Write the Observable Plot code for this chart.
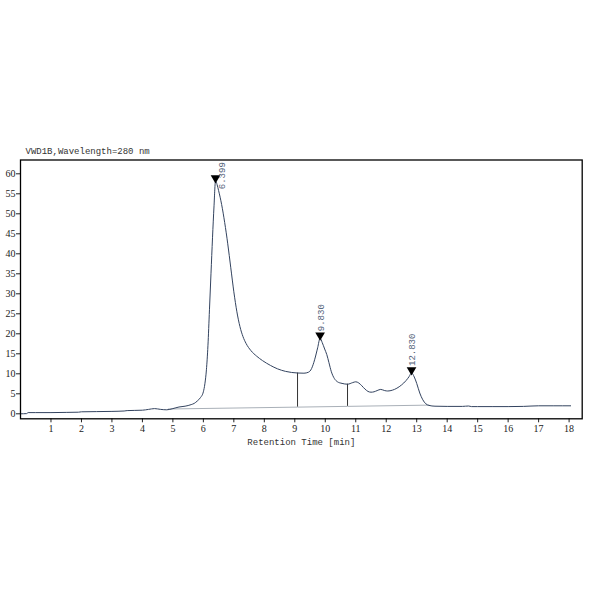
<!DOCTYPE html>
<html>
<head>
<meta charset="utf-8">
<script src="https://cdn.jsdelivr.net/npm/d3@7"></script>
<script src="https://cdn.jsdelivr.net/npm/@observablehq/plot@0.6"></script>
<style>
  html, body { margin: 0; padding: 0; background: #fff; }
</style>
</head>
<body>
<div id="chart"></div>
<script>
// Chromatogram signal (retention time in min, signal in mAU)
const timeMin = [0.0, 0.2, 0.25, 0.5, 1.0, 1.5, 1.9, 2.0, 2.5, 3.0, 3.4, 3.5, 4.0, 4.2, 4.4, 4.6, 4.8, 5.0, 5.2, 5.4, 5.6, 5.7, 5.8, 5.9, 6.0, 6.05, 6.1, 6.15, 6.2, 6.25, 6.3, 6.35, 6.399, 6.45, 6.5, 6.6, 6.7, 6.8, 6.9, 7.0, 7.1, 7.2, 7.3, 7.4, 7.56, 7.75, 7.94, 8.2, 8.43, 8.7, 9.09, 9.3, 9.45, 9.55, 9.65, 9.75, 9.83, 9.9, 9.98, 10.05, 10.12, 10.2, 10.3, 10.4, 10.55, 10.73, 10.9, 11.0, 11.1, 11.2, 11.3, 11.4, 11.5, 11.6, 11.7, 11.82, 11.95, 12.05, 12.2, 12.35, 12.5, 12.65, 12.75, 12.83, 12.92, 13.0, 13.1, 13.2, 13.3, 13.4, 13.6, 14.0, 14.5, 14.7, 14.8, 15.0, 15.5, 16.0, 16.5, 17.0, 17.5, 18.05];
const signal  = [0.0, 0.05, 0.3, 0.3, 0.3, 0.35, 0.4, 0.5, 0.55, 0.6, 0.7, 0.8, 0.9, 1.1, 1.3, 1.1, 1.0, 1.3, 1.7, 1.9, 2.3, 2.6, 3.2, 4.0, 5.5, 7.5, 11, 17, 26, 35, 44, 52, 58.2, 57.3, 55.8, 52.3, 47.8, 42.5, 36.5, 30.5, 25.5, 21.8, 19.3, 17.6, 15.8, 14.4, 13.3, 12.1, 11.25, 10.6, 10.2, 10.15, 10.4, 11.3, 13.5, 16.5, 18.9, 17.8, 16.2, 14.8, 12.8, 10.5, 8.8, 8.0, 7.6, 7.4, 7.8, 8.0, 7.7, 7.0, 6.2, 5.6, 5.4, 5.5, 5.8, 6.1, 5.8, 5.7, 5.9, 6.4, 7.2, 8.3, 9.3, 10.2, 9.2, 7.6, 5.2, 3.5, 2.5, 2.1, 1.9, 1.85, 1.85, 1.95, 1.8, 1.8, 1.8, 1.8, 1.85, 2.0, 2.0, 2.0];

// Integration baseline
const baseTime = [4.85, 9.09, 10.73, 13.4];
const baseSignal = [1.2, 1.67, 1.86, 2.17];

// Peak separation drop lines
const dropTime = [9.09, 10.73];
const dropTop = [10.2, 7.4];
const dropBottom = [1.67, 1.86];

// Peaks
const peakTime = [6.399, 9.830, 12.830];
const peakHeight = [58.2, 18.9, 10.2];
const peakLabel = ["6.399", "9.830", "12.830"];

const xTicks = d3.range(1, 19);
const yTicks = d3.range(0, 61, 5);
const title = "VWD1B,Wavelength=280 nm";
const xLabel = "Retention Time [min]";

const curve = timeMin.map((t, i) => ({t, v: signal[i]}));
const base = baseTime.map((t, i) => ({t, v: baseSignal[i]}));
const drops = dropTime.map((t, i) => ({t, y1: dropBottom[i], y2: dropTop[i]}));
const peaks = peakTime.map((t, i) => ({t, v: peakHeight[i], label: peakLabel[i]}));

const yMax = 63.45;
const labelOffset = 1.6;   // in data units above peak
const labelLen = 7.3;      // approx label length in data units
const clampedFn = d => d.v + labelOffset + labelLen > yMax;
const peaksTop = peaks.filter(clampedFn);
const peaksOther = peaks.filter(d => !clampedFn(d));

const mono = "Liberation Mono, DejaVu Sans Mono, monospace";
const lineColor = "#33435f";

const plot = Plot.plot({
  width: 594,
  height: 594,
  marginTop: 159.5,
  marginBottom: 175.7,
  marginLeft: 20,
  marginRight: 12.3,
  style: {fontFamily: "Liberation Serif, DejaVu Serif, serif", fontSize: "10px", color: "#222", background: "#fff"},
  x: {domain: [0, 18.43], label: null},
  y: {domain: [-1.25, yMax], label: null},
  marks: [
    Plot.axisX({ticks: xTicks, tickSize: 4, tickPadding: 2, label: null, stroke: "#222"}),
    Plot.axisY({ticks: yTicks, tickSize: 4, tickPadding: 1, label: null, stroke: "#222"}),
    Plot.line(base, {x: "t", y: "v", stroke: "#a9b0b8", strokeWidth: 1}),
    Plot.ruleX(drops, {x: "t", y1: "y1", y2: "y2", stroke: "#333", strokeWidth: 1}),
    Plot.line(curve, {x: "t", y: "v", stroke: lineColor, strokeWidth: 1, curve: "monotone-x"}),
    Plot.dot(peaks, {x: "t", y: "v", symbol: "triangle", r: 3.6, rotate: 180, fill: "#000", stroke: "none", dy: -3}),
    Plot.text(peaksOther, {x: "t", y: "v", text: "label", rotate: -90, textAnchor: "start", lineAnchor: "middle", dy: -7, dx: 1, fontFamily: mono, fontSize: 9, fill: "#55637a"}),
    Plot.text(peaksTop, {x: "t", y: () => yMax - labelLen, text: "label", rotate: -90, textAnchor: "start", lineAnchor: "middle", dx: 7, fontFamily: mono, fontSize: 9, fill: "#55637a"}),
    Plot.frame({stroke: "#000", strokeWidth: 1.3}),
    Plot.text([title], {frameAnchor: "top-left", dx: 5, dy: -6, lineAnchor: "bottom", textAnchor: "start", fontFamily: mono, fontSize: 9, fill: "#333"}),
    Plot.text([xLabel], {frameAnchor: "bottom", dy: 26, lineAnchor: "bottom", textAnchor: "middle", fontFamily: mono, fontSize: 9, fill: "#333"})
  ]
});
document.getElementById("chart").appendChild(plot);
</script>
</body>
</html>
